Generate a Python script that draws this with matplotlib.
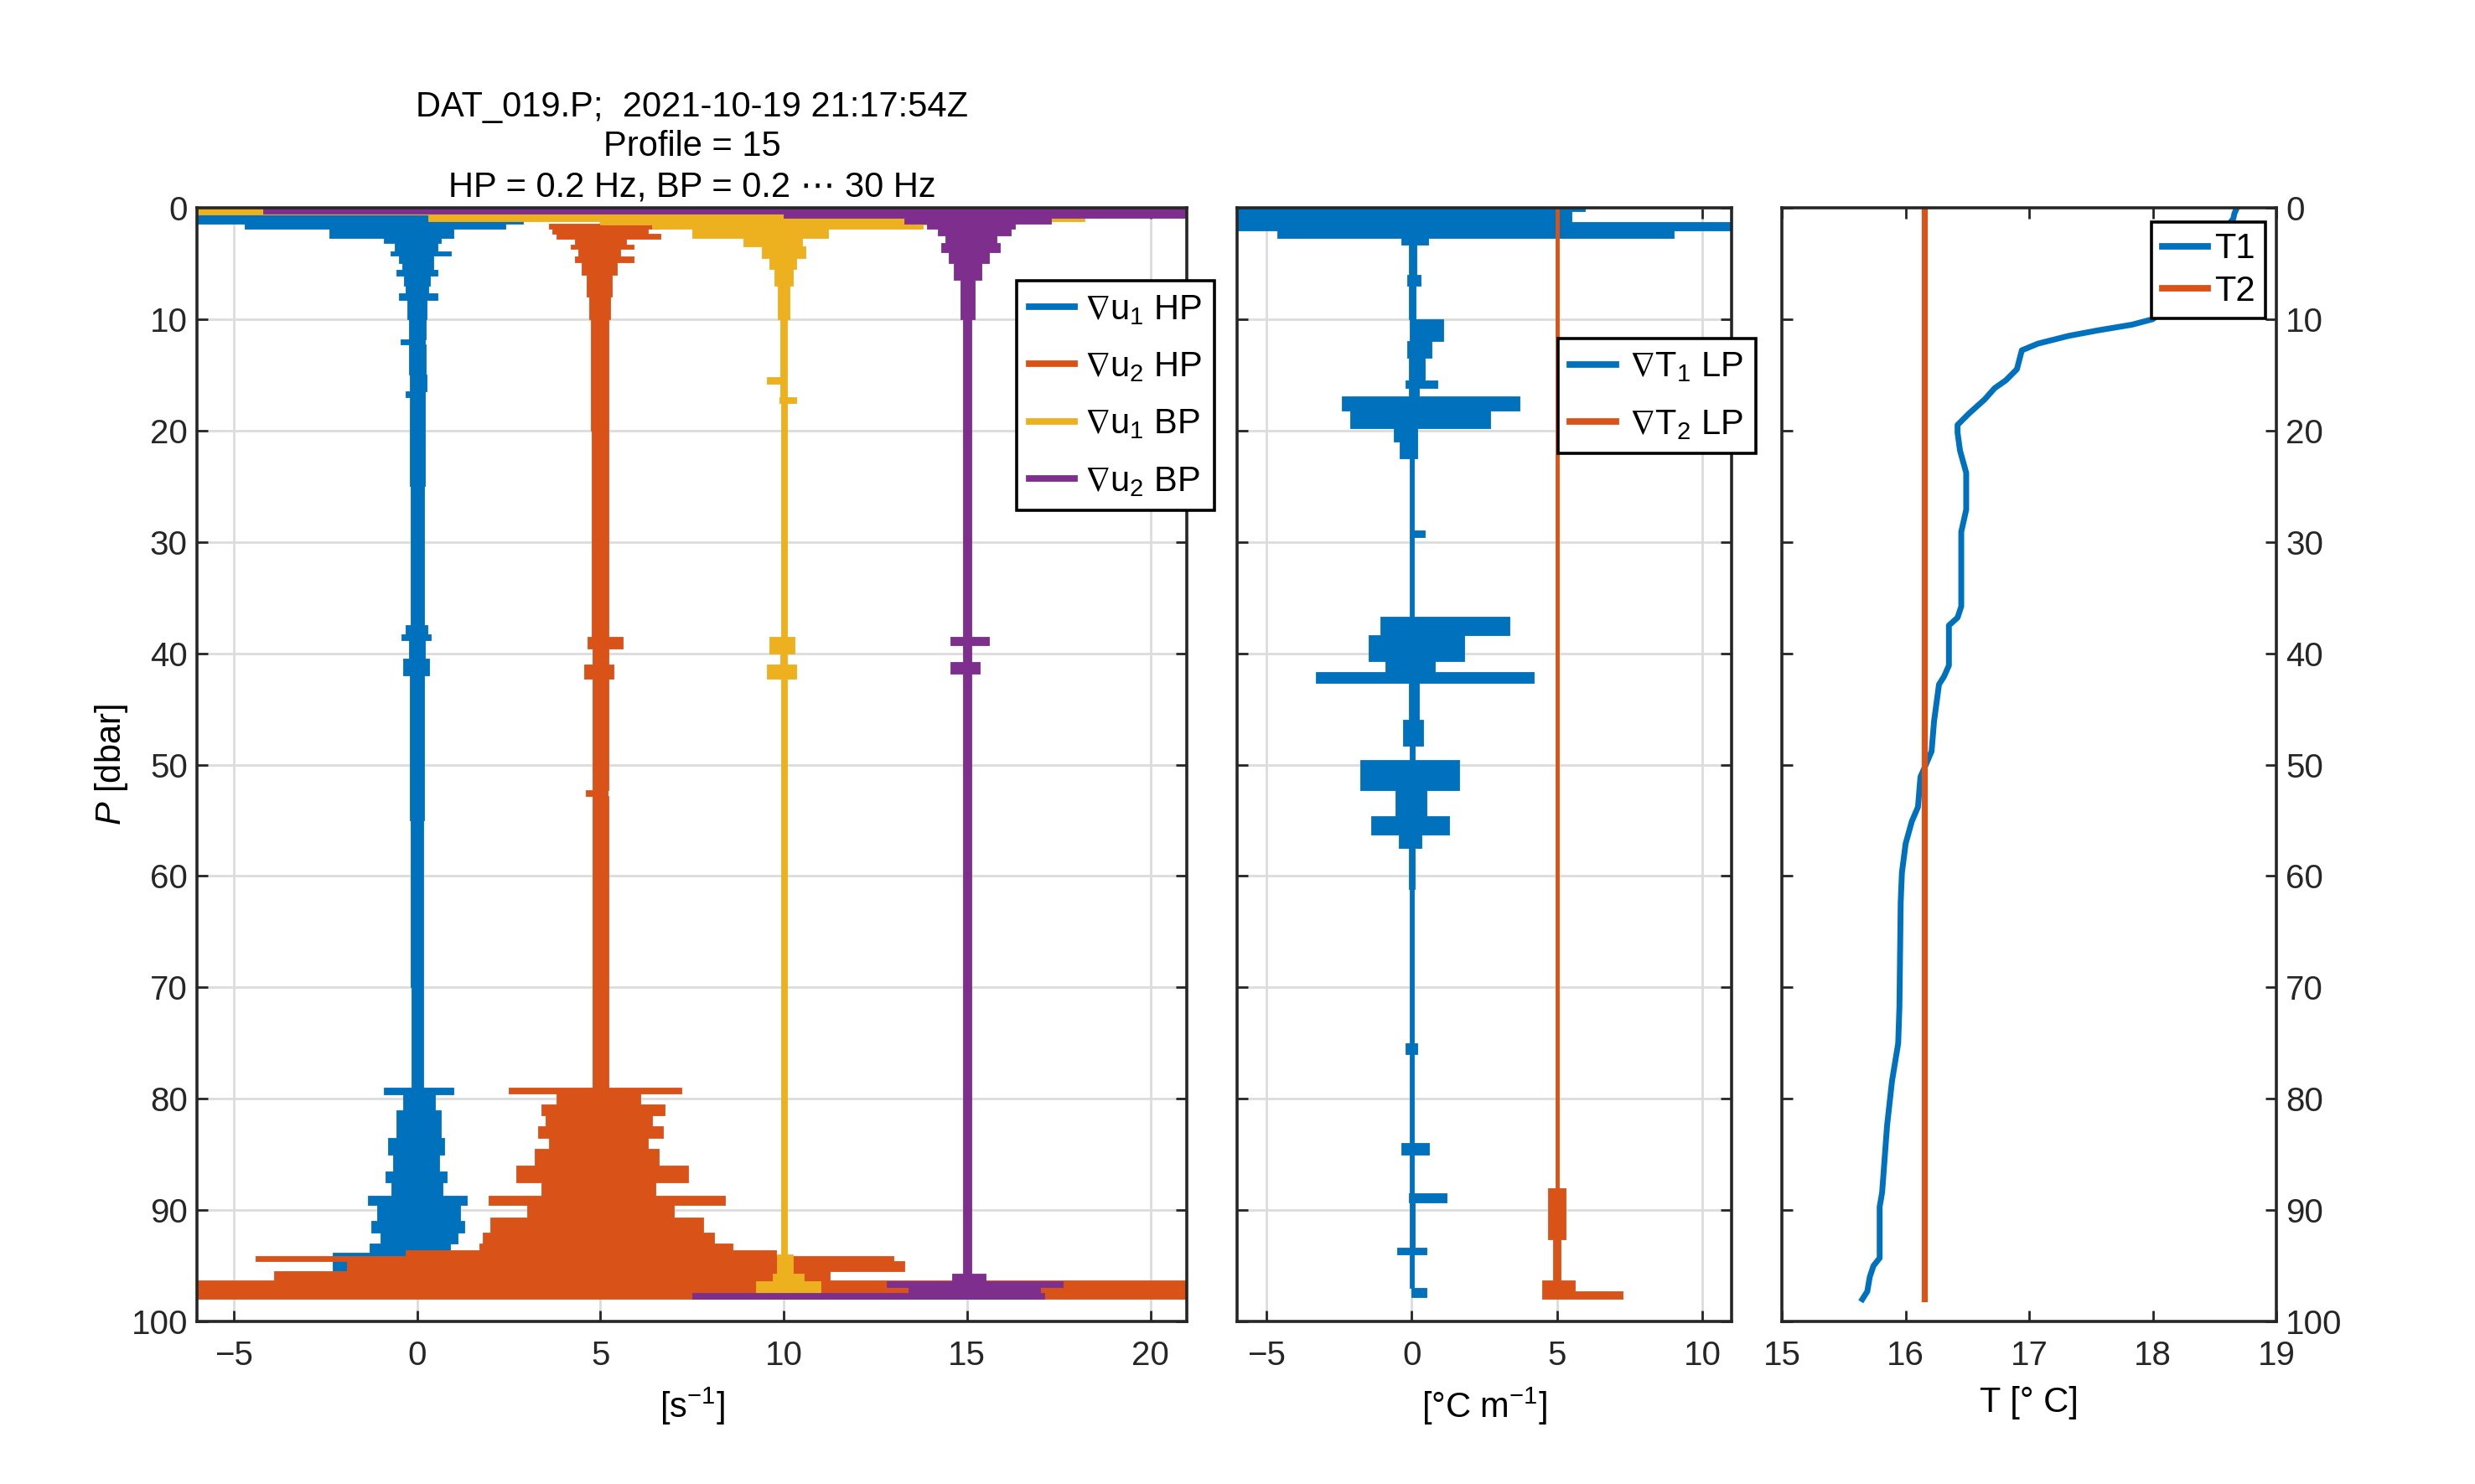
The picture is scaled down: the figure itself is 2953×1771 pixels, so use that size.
import numpy as np
import matplotlib
matplotlib.use('Agg')
import matplotlib.pyplot as plt
from matplotlib.lines import Line2D

plt.rcParams['font.family'] = ['Liberation Sans', 'DejaVu Sans']
plt.rcParams['mathtext.fontset'] = 'custom'
plt.rcParams['mathtext.rm'] = 'Liberation Sans'
plt.rcParams['mathtext.it'] = 'Liberation Sans:italic'
plt.rcParams['mathtext.default'] = 'regular'
plt.rcParams['mathtext.fallback'] = 'stixsans'
plt.rcParams['font.size'] = 15

BLUE = '#0072BD'
ORANGE = '#D95319'
YELLOW = '#EDB120'
PURPLE = '#7E2F8E'
AXC = '#262626'

# --- panel 1: shear envelopes (P start of each block, left, right); last P closes the block
u1hp_p = [0.6, 1.1, 1.4, 1.9, 2.7, 3.2, 3.9, 4.3, 5.0, 5.6, 6.1, 7.0, 7.7, 8.3, 10.0, 11.8, 12.3,
          15.0, 16.5, 17.0, 25.0, 37.5, 38.3, 38.8, 40.5, 42.0, 55.0, 70.0, 79.0, 79.6, 81.0,
          83.5, 85.0, 86.5, 87.5, 88.7, 89.5, 91.0, 92.0, 93.0, 93.8, 96.0]
u1hp_lo = [-6.0, -6.0, -4.7, -2.4, -0.9, -0.6, -0.73, -0.5, -0.4, -0.55, -0.35, -0.3, -0.5, -0.26,
           -0.22, -0.45, -0.22, -0.2, -0.32, -0.2, -0.18, -0.32, -0.42, -0.22, -0.38, -0.2, -0.18,
           -0.16, -0.9, -0.38, -0.55, -0.8, -0.65, -0.85, -0.7, -1.34, -1.08, -1.25, -1.0, -1.3, -2.3]
u1hp_hi = [3.6, 2.9, 2.4, 1.0, 0.66, 0.55, 0.92, 0.45, 0.45, 0.55, 0.35, 0.3, 0.57, 0.26,
           0.24, 0.22, 0.24, 0.26, 0.22, 0.22, 0.2, 0.28, 0.38, 0.22, 0.32, 0.2, 0.18,
           0.18, 1.0, 0.49, 0.66, 0.75, 0.6, 0.8, 0.7, 1.35, 1.18, 1.3, 1.1, 0.9, 0.8]

u2hp_p = [1.4, 1.9, 2.3, 2.8, 3.3, 3.7, 4.4, 4.9, 6.0, 8.0, 10.0, 20.0, 38.5, 39.6, 41.0, 42.3,
          52.3, 52.8, 79.0, 79.5, 80.5, 81.5, 82.5, 83.5, 84.5, 86.0, 87.5, 88.7, 89.5, 90.7,
          92.0, 93.0, 93.6, 94.1, 94.6, 95.5, 96.3, 98.0]
u2hp_lo = [3.6, 3.7, 3.8, 4.3, 4.2, 4.4, 4.3, 4.5, 4.62, 4.7, 4.75, 4.77, 4.64, 4.78, 4.55, 4.78,
           4.6, 4.78, 2.5, 3.8, 3.4, 3.5, 3.3, 3.6, 3.2, 2.7, 3.4, 1.96, 3.0, 2.0,
           1.8, 1.7, -0.3, -4.4, -1.9, -3.9, -6.0]
u2hp_hi = [6.6, 6.3, 6.65, 5.7, 5.9, 5.55, 5.9, 5.45, 5.32, 5.26, 5.23, 5.22, 5.62, 5.22, 5.35, 5.22,
           5.2, 5.22, 7.2, 6.1, 6.75, 6.4, 6.7, 6.3, 6.6, 7.4, 6.5, 8.4, 7.0, 7.8,
           8.1, 8.6, 9.8, 13.0, 13.3, 11.25, 21.0]

u1bp_p = [0.0, 0.6, 1.2, 1.5, 1.9, 2.7, 3.5, 4.5, 5.5, 7.0, 10.0, 15.2, 15.8, 17.0, 17.5,
          38.5, 40.0, 41.0, 42.3, 94.0, 95.7, 96.4, 97.4]
u1bp_lo = [-6.0, 0.3, 5.0, 6.4, 7.5, 8.9, 9.4, 9.6, 9.75, 9.85, 9.9, 9.55, 9.9, 9.88, 9.92,
           9.6, 9.9, 9.55, 9.92, 9.82, 9.7, 9.25]
u1bp_hi = [18.2, 18.2, 14.0, 13.8, 11.2, 10.5, 10.6, 10.35, 10.25, 10.15, 10.1, 10.1, 10.1, 10.35,
           10.1, 10.3, 10.1, 10.35, 10.1, 10.25, 10.55, 11.0]

u2bp_p = [0.0, 0.5, 0.9, 1.4, 1.9, 2.5, 3.2, 4.0, 5.0, 6.5, 10.0, 38.5, 39.3, 40.8, 41.8,
          95.7, 96.4, 96.9, 97.4, 97.95]
u2bp_lo = [-4.2, 10.0, 13.3, 13.9, 14.2, 14.4, 14.3, 14.5, 14.65, 14.82, 14.88, 14.55, 14.88,
           14.55, 14.88, 14.6, 12.8, 13.4, 7.5]
u2bp_hi = [21.0, 21.0, 17.3, 16.3, 16.2, 15.8, 15.9, 15.6, 15.4, 15.2, 15.12, 15.6, 15.12,
           15.35, 15.12, 15.5, 17.6, 17.0, 17.1]

# --- panel 2: temperature gradient envelopes
t1lp_p = [0.0, 0.3, 1.3, 2.0, 2.75, 3.3, 6.0, 7.0, 10.0, 12.0, 13.5, 15.5, 16.2, 16.9, 18.2,
          19.8, 21.0, 22.5, 29.0, 29.6, 36.7, 38.4, 40.7, 41.7, 42.7, 46.0, 48.3, 49.6, 52.3,
          54.6, 56.3, 57.5, 61.2, 75.0, 76.0, 84.0, 85.0, 88.5, 89.3, 93.4, 94.0, 97.0, 97.8]
t1lp_lo = [-6.0, -6.0, -6.0, -4.6, -0.34, -0.1, -0.15, -0.08, -0.05, -0.15, -0.1, -0.2, -0.08,
           -2.4, -2.1, -0.6, -0.4, -0.07, -0.05, -0.07, -1.07, -1.46, -0.9, -3.3, -0.1, -0.3,
           -0.07, -1.75, -0.55, -1.4, -0.45, -0.08, -0.06, -0.2, -0.06, -0.35, -0.06, -0.1,
           -0.06, -0.5, -0.06, 0.0]
t1lp_hi = [5.96, 5.5, 11.0, 9.0, 0.56, 0.18, 0.3, 0.15, 1.1, 0.7, 0.45, 0.9, 0.25,
           3.7, 2.7, 0.2, 0.2, 0.09, 0.45, 0.09, 3.37, 1.8, 0.8, 4.2, 0.25, 0.4,
           0.12, 1.63, 0.5, 1.3, 0.35, 0.12, 0.08, 0.2, 0.08, 0.6, 0.08, 1.2,
           0.1, 0.5, 0.08, 0.5]

t2lp_p = [0.0, 88.0, 92.6, 96.3, 97.3, 98.0]
t2lp_lo = [4.94, 4.7, 4.87, 4.5, 4.5]
t2lp_hi = [5.06, 5.3, 5.13, 5.6, 7.25]

# --- panel 3: temperature profiles
t1_p = [0.0, 0.5, 1.0, 3.0, 6.0, 9.0, 10.0, 10.5, 11.0, 11.5, 12.2, 12.8, 14.5, 15.5, 16.2, 17.2,
        18.5, 19.5, 20.2, 21.8, 23.8, 27.1, 29.1, 35.8, 36.8, 37.5, 41.1, 42.1, 42.8, 46.1,
        48.8, 50.1, 51.1, 53.8, 55.1, 57.1, 59.7, 62.4, 71.7, 75.0, 75.7, 78.4, 82.4, 88.4,
        89.7, 94.3, 95.0, 96.0, 97.3, 98.0]
t1_t = [18.68, 18.66, 18.65, 18.5, 18.3, 18.1, 18.0, 17.83, 17.56, 17.32, 17.07, 16.94, 16.9,
        16.81, 16.72, 16.64, 16.51, 16.42, 16.42, 16.44, 16.49, 16.49, 16.45, 16.45, 16.42,
        16.35, 16.35, 16.31, 16.27, 16.23, 16.21, 16.16, 16.12, 16.10, 16.05, 16.0, 15.97,
        15.96, 15.95, 15.94, 15.93, 15.89, 15.85, 15.81, 15.79, 15.79, 15.74, 15.71, 15.69, 15.65]
t2_p = [0.0, 98.0]
t2_t = [16.15, 16.15]

title_lines = ['DAT_019.P;  2021-10-19 21:17:54Z', 'Profile = 15',
               'HP = 0.2 Hz, BP = 0.2 \u22ef 30 Hz']


def draw_envelope(ax, p, lo, hi, color):
    lo = np.append(lo, lo[-1])
    hi = np.append(hi, hi[-1])
    ax.fill_betweenx(p, lo, hi, step='post', color=color, lw=0.3, edgecolor=color)


def style_axes(ax, grid=True):
    ax.set_ylim(100, 0)
    ax.set_yticks(np.arange(0, 101, 10))
    ax.tick_params(direction='in', length=4.7, width=1.0, colors=AXC,
                   top=True, right=True, labelsize=14.5)
    ax.tick_params(axis='x', pad=8)
    ax.tick_params(axis='y', pad=4)
    for s in ax.spines.values():
        s.set_linewidth(1.3)
        s.set_color(AXC)
    if grid:
        ax.grid(True, color='#dcdcdc', lw=1.0)
    ax.set_axisbelow(True)


def add_legend(ax, fig, labels, colors, anchor, **kw):
    handles = [Line2D([], [], color=c, lw=2.8) for c in colors]
    leg = ax.legend(handles, labels, loc='upper left', bbox_to_anchor=anchor,
                    bbox_transform=fig.transFigure, fancybox=False, framealpha=1,
                    edgecolor='black', fontsize=15, borderaxespad=0, **kw)
    leg.get_frame().set_linewidth(1.3)
    leg.set_zorder(10)
    return leg


fig = plt.figure(figsize=(2953 / 200, 1771 / 200), dpi=200)
ax1 = fig.add_axes([0.0796, 0.1095, 0.400, 0.7505])
ax2 = fig.add_axes([0.4998, 0.1095, 0.1998, 0.7505])
ax3 = fig.add_axes([0.720, 0.1095, 0.1998, 0.7505])

# panel 1
draw_envelope(ax1, u1hp_p, u1hp_lo, u1hp_hi, BLUE)
draw_envelope(ax1, u2hp_p, u2hp_lo, u2hp_hi, ORANGE)
draw_envelope(ax1, u1bp_p, u1bp_lo, u1bp_hi, YELLOW)
draw_envelope(ax1, u2bp_p, u2bp_lo, u2bp_hi, PURPLE)
ax1.set_xlim(-6, 21)
ax1.set_xticks([-5, 0, 5, 10, 15, 20])
style_axes(ax1)
ax1.set_xlabel('[s$^{-1}$]', labelpad=6)
ax1.set_ylabel('$\\mathit{P}$ [dbar]', labelpad=0.5)
ax1.set_title('\n'.join(title_lines), fontsize=15, pad=5, linespacing=1.25)
add_legend(ax1, fig,
           ['$\\nabla$u$_1$ HP', '$\\nabla$u$_2$ HP', '$\\nabla$u$_1$ BP', '$\\nabla$u$_2$ BP'],
           [BLUE, ORANGE, YELLOW, PURPLE], (0.4108, 0.8108),
           handlelength=1.3, handletextpad=0.3, labelspacing=0.68, borderpad=0.35)

# panel 2
draw_envelope(ax2, t1lp_p, t1lp_lo, t1lp_hi, BLUE)
draw_envelope(ax2, t2lp_p, t2lp_lo, t2lp_hi, ORANGE)
ax2.set_xlim(-6, 11)
ax2.set_xticks([-5, 0, 5, 10])
style_axes(ax2)
ax2.tick_params(axis='y', labelleft=False)
ax2.set_xlabel('[\u00b0C m$^{-1}$]', labelpad=6)
add_legend(ax2, fig, ['$\\nabla$T$_1$ LP', '$\\nabla$T$_2$ LP'], [BLUE, ORANGE],
           (0.6295, 0.7719), handlelength=1.3, handletextpad=0.4, labelspacing=0.68,
           borderpad=0.35)

# panel 3
ax3.plot(t1_t, t1_p, color=BLUE, lw=2.5)
ax3.plot(t2_t, t2_p, color=ORANGE, lw=2.6)
ax3.set_xlim(15, 19)
ax3.set_xticks([15, 16, 17, 18, 19])
style_axes(ax3, grid=False)
ax3.tick_params(axis='y', labelleft=False, labelright=True)
ax3.set_xlabel('T [\u00b0 C]', labelpad=6)
add_legend(ax3, fig, ['T1', 'T2'], [BLUE, ORANGE], (0.8693, 0.8504),
           handlelength=1.3, handletextpad=0.2, labelspacing=0.25, borderpad=0.3)

fig.savefig('out.png', dpi=200)
